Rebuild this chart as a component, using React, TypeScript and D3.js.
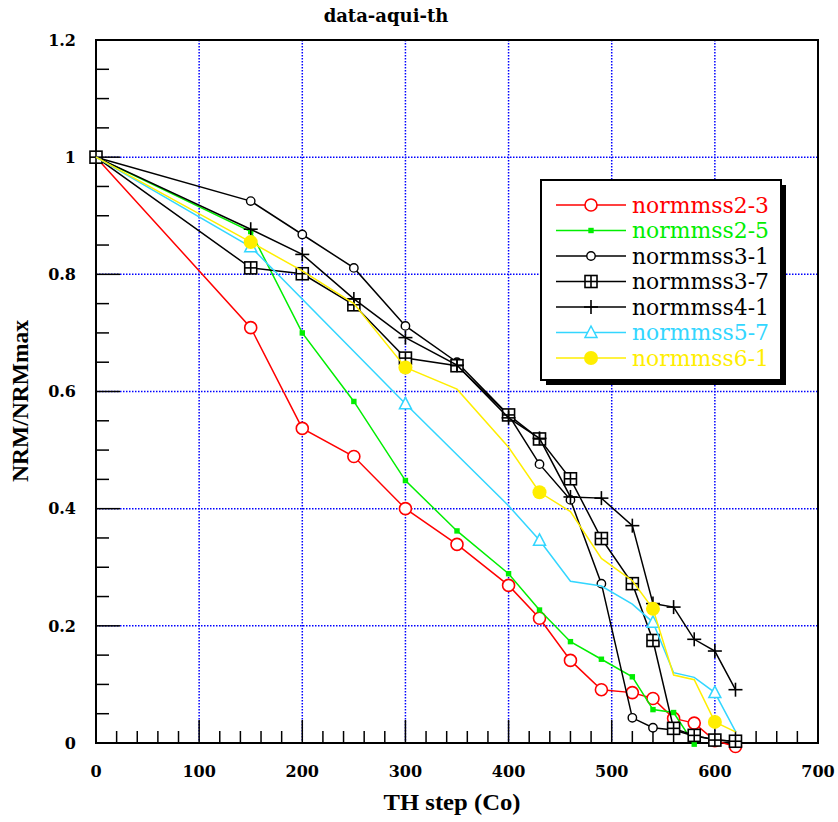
import React from 'react';
import * as d3 from 'd3';

// ---- data ----
const seriesNames = ['normmss2-3', 'normmss2-5', 'normmss3-1', 'normmss3-7', 'normmss4-1', 'normmss5-7', 'normmss6-1'];
const seriesColors = ['#ff0000', '#00ee00', '#000000', '#000000', '#000000', '#33d6ff', '#ffee00'];
const seriesMarkers = ['bigCircle', 'smallSquare', 'smallCircle', 'boxPlus', 'plus', 'triangle', 'dot'];

const s23: [number, number][] = [[0, 1], [150, 0.709], [200, 0.537], [250, 0.489], [300, 0.4], [350, 0.339], [400, 0.269], [430, 0.213], [460, 0.141], [490, 0.091], [520, 0.086], [540, 0.076], [560, 0.042], [580, 0.034], [600, 0.004], [620, -0.006]];
const s25: [number, number][] = [[0, 1], [150, 0.873], [200, 0.7], [250, 0.583], [300, 0.448], [350, 0.362], [400, 0.289], [430, 0.227], [460, 0.173], [490, 0.143], [520, 0.113], [540, 0.057], [560, 0.052], [580, -0.002]];
const s31: [number, number][] = [[0, 1], [150, 0.925], [200, 0.868], [250, 0.811], [300, 0.712], [350, 0.65], [400, 0.56], [430, 0.476], [460, 0.415], [490, 0.272], [520, 0.043], [540, 0.026], [560, 0.022], [580, 0.012], [600, 0.006], [620, 0.002]];
const s37: [number, number][] = [[0, 1], [150, 0.811], [200, 0.801], [250, 0.748], [300, 0.657], [350, 0.644], [400, 0.56], [430, 0.519], [460, 0.451], [490, 0.349], [520, 0.272], [540, 0.175], [560, 0.025], [580, 0.013], [600, 0.005], [620, 0.003]];
const s41: [number, number][] = [[0, 1], [150, 0.877], [200, 0.834], [250, 0.758], [300, 0.692], [350, 0.645], [400, 0.555], [430, 0.52], [460, 0.42], [490, 0.418], [520, 0.371], [540, 0.238], [560, 0.232], [580, 0.177], [600, 0.157], [620, 0.091]];
const s57: [number, number][] = [[0, 1], [150, 0.847], [300, 0.579], [400, 0.405], [430, 0.346], [460, 0.276], [490, 0.268], [520, 0.237], [540, 0.206], [560, 0.12], [580, 0.112], [600, 0.086], [620, 0.02]];
const s61: [number, number][] = [[0, 1], [150, 0.855], [200, 0.806], [250, 0.75], [300, 0.641], [350, 0.604], [400, 0.505], [430, 0.428], [460, 0.395], [490, 0.315], [520, 0.277], [540, 0.229], [560, 0.116], [580, 0.108], [600, 0.036], [620, 0.019]];
const seriesData = [s23, s25, s31, s37, s41, s57, s61];
// temperatures at which a marker is drawn (null = every point except the origin)
const markTemps57 = [150, 300, 430, 540, 600];
const markTemps61 = [150, 300, 430, 540, 600];
const seriesMarkTemps: (number[] | null)[] = [null, null, null, null, null, markTemps57, markTemps61];

const xTicks = [0, 100, 200, 300, 400, 500, 600, 700];
const yTicks = [0, 0.2, 0.4, 0.6, 0.8, 1, 1.2];
const yTickLabels = ['0', '0.2', '0.4', '0.6', '0.8', '1', '1.2'];
const titleText = 'data-aqui-th';
const xLabel = 'TH step (Co)';
const yLabel = 'NRM/NRMmax';

const W = 838, H = 822;
const L = 96, R = 818, T = 40, B = 743;

function Marker({ kind, cx, cy, color }: { kind: string; cx: number; cy: number; color: string }) {
  switch (kind) {
    case 'bigCircle':
      return <circle cx={cx} cy={cy} r={6} fill="#fff" stroke={color} strokeWidth={1.6} />;
    case 'smallSquare':
      return <rect x={cx - 2.7} y={cy - 2.7} width={5.4} height={5.4} fill={color} />;
    case 'smallCircle':
      return <circle cx={cx} cy={cy} r={4.2} fill="#fff" stroke={color} strokeWidth={1.4} />;
    case 'boxPlus':
      return (
        <g stroke={color} strokeWidth={1.6} fill="#fff">
          <rect x={cx - 6} y={cy - 6} width={12} height={12} />
          <line x1={cx - 6} x2={cx + 6} y1={cy} y2={cy} />
          <line x1={cx} x2={cx} y1={cy - 6} y2={cy + 6} />
        </g>
      );
    case 'plus':
      return (
        <g stroke={color} strokeWidth={1.6}>
          <line x1={cx - 7} x2={cx + 7} y1={cy} y2={cy} />
          <line x1={cx} x2={cx} y1={cy - 7} y2={cy + 7} />
        </g>
      );
    case 'triangle':
      return <path d={`M${cx},${cy - 6.5}L${cx + 6},${cy + 5}L${cx - 6},${cy + 5}Z`} fill="#fff" stroke={color} strokeWidth={1.5} />;
    case 'dot':
      return <circle cx={cx} cy={cy} r={7} fill={color} />;
    default:
      return null;
  }
}

export default function App() {
  const x = d3.scaleLinear().domain([0, 700]).range([L, R]);
  const y = d3.scaleLinear().domain([0, 1.2]).range([B, T]);
  const line = d3.line<[number, number]>().x(d => x(d[0])).y(d => y(d[1]));

  const xMinor = d3.range(0, 701, 20);
  const yMinor = d3.range(0, 1.2001, 0.05);
  const gridX = xTicks.filter(v => v > 0 && v < 700);
  const gridY = yTicks.filter(v => v > 0 && v < 1.2);

  const legX = 541, legY = 180, legW = 240, legH = 200;
  const rowY0 = 205, rowStep = 25.5;

  return (
    <svg width={W} height={H} style={{ position: 'absolute', left: 0, top: 0, background: '#fff' }}>
      <rect x={0} y={0} width={W} height={H} fill="#fff" />
      {/* grid */}
      <g stroke="#0000ff" strokeWidth={1.5} strokeDasharray="1.5,1.5">
        {gridX.map(v => <line key={'gx' + v} x1={x(v)} x2={x(v)} y1={T} y2={B} />)}
        {gridY.map(v => <line key={'gy' + v} x1={L} x2={R} y1={y(v)} y2={y(v)} />)}
      </g>
      {/* ticks */}
      <g stroke="#000" strokeWidth={1.5}>
        {xMinor.map(v => {
          const major = Math.abs(v % 100) < 1e-6;
          return <line key={'xt' + v} x1={x(v)} x2={x(v)} y1={B} y2={B - (major ? 23 : 12)} />;
        })}
        {yMinor.map((v, i) => {
          const major = i % 4 === 0;
          return <line key={'yt' + i} x1={L} x2={L + (major ? 24 : 13)} y1={y(v)} y2={y(v)} />;
        })}
      </g>
      {/* frame */}
      <rect x={L} y={T} width={R - L} height={B - T} fill="none" stroke="#000" strokeWidth={2} />
      {/* tick labels */}
      <g fontFamily="'DejaVu Serif', serif" fontWeight="bold" fontSize={16} fill="#000">
        {xTicks.map(v => (
          <text key={'xl' + v} x={x(v)} y={777} textAnchor="middle">{v}</text>
        ))}
        {yTicks.map((v, i) => (
          <text key={'yl' + v} x={76} y={y(v)} dy="0.36em" textAnchor="end">{yTickLabels[i]}</text>
        ))}
      </g>
      {/* title & axis labels */}
      <text x={386} y={22} textAnchor="middle" fontFamily="'DejaVu Serif', serif" fontWeight="bold" fontSize={18}>{titleText}</text>
      <text x={452} y={810} textAnchor="middle" fontFamily="'Liberation Serif', serif" fontWeight="bold" fontSize={24} textLength={137} lengthAdjust="spacingAndGlyphs">{xLabel}</text>
      <text transform={`translate(28,401) rotate(-90)`} textAnchor="middle" fontFamily="'Liberation Serif', serif" fontWeight="bold" fontSize={24} textLength={162} lengthAdjust="spacingAndGlyphs">{yLabel}</text>

      {/* series */}
      {seriesData.map((data, si) => {
        const col = seriesColors[si];
        const mt = seriesMarkTemps[si];
        const pts = data.filter(d => (mt ? mt.includes(d[0]) : d[0] !== 0) || (si === 3 && d[0] === 0));
        return (
          <g key={'s' + si}>
            <path d={line(data) || ''} fill="none" stroke={col} strokeWidth={1.5} />
            {pts.map((d, k) => <Marker key={k} kind={seriesMarkers[si]} cx={x(d[0])} cy={y(d[1])} color={col} />)}
          </g>
        );
      })}

      {/* legend */}
      <rect x={legX + 5} y={legY + 5} width={legW} height={legH} fill="#000" />
      <rect x={legX} y={legY} width={legW} height={legH} fill="#fff" stroke="#000" strokeWidth={2} />
      {seriesNames.map((name, i) => {
        const ry = rowY0 + i * rowStep;
        const col = seriesColors[i];
        return (
          <g key={'lg' + i}>
            <line x1={556} x2={626} y1={ry} y2={ry} stroke={col} strokeWidth={1.5} />
            <Marker kind={seriesMarkers[i]} cx={591} cy={ry} color={col} />
            <text x={632} y={ry} dy="0.36em" fill={col} fontFamily="'DejaVu Serif', serif" fontSize={21.5} textLength={137} lengthAdjust="spacingAndGlyphs">{name}</text>
          </g>
        );
      })}
    </svg>
  );
}
